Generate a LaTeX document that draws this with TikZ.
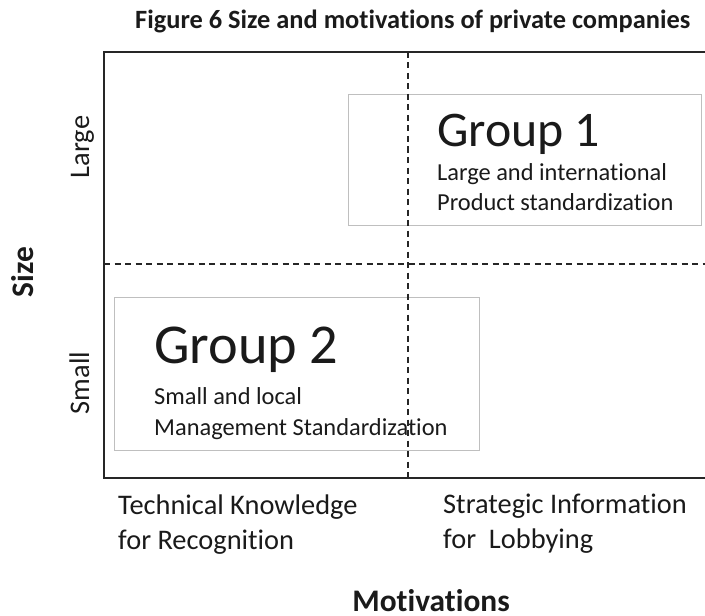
\documentclass[tikz,border=0pt]{standalone}
\usepackage{fontspec}
\setmainfont{Carlito}[Ligatures={NoCommon,NoRare}]
\usepackage{xcolor}
\usetikzlibrary{positioning}
\definecolor{framegray}{HTML}{262626}
\definecolor{boxgray}{HTML}{BFBFBF}
\definecolor{textdark}{HTML}{1A1A1A}

\begin{document}
\begin{tikzpicture}[
  x=1bp, y=-1bp,
  axisline/.style={draw=framegray, line width=2.6bp, line join=miter},
  divider/.style={draw=framegray, line width=1.5bp, dash pattern=on 6bp off 4.5bp},
  groupbox/.style={rectangle, draw=boxgray, line width=1bp, inner sep=0pt},
  grouptitle/.style={anchor=base west, inner sep=0pt, text=textdark},
  grouptext/.style={anchor=base west, inner sep=0pt, align=left, text=textdark, font=\fontsize{24.5}{30.5}\selectfont},
  ticklabel/.style={inner sep=0pt, text=textdark, font=\fontsize{28.5}{35}\selectfont},
  axistitle/.style={inner sep=0pt, text=textdark, font=\fontsize{31.5}{37}\selectfont\bfseries},
]

  \useasboundingbox (0,0) rectangle (705,616);

  \node[anchor=base west, inner sep=0pt, text=textdark, font=\fontsize{26.5}{30}\selectfont\bfseries] (title) at (135,29) {Figure 6 Size and motivations of private companies};

  % frame and quadrant corners
  \coordinate (corner) at (104,52);
  \coordinate (topend) at (705,52);
  \coordinate (origin) at (104,478);
  \coordinate (axisend) at (705,478);
  \coordinate (midtop) at (408,52);
  \coordinate (midbottom) at (408,478);
  \coordinate (midleft) at (104,264);
  \coordinate (midright) at (705,264);

  \draw[axisline] (topend) -- (corner) -- (origin) -- (axisend);

  % groups (multi-line nodes sit on their last baseline)
  \node[groupbox, minimum width=354, minimum height=132] (grpone) at (525,160) {};
  \node[grouptitle, font=\fontsize{50}{60}\selectfont] (grponetitle) at (437,147) {Group 1};
  \node[grouptext] (grponetext) at (437,211) {Large and international\\Product standardization};

  \node[groupbox, minimum width=366, minimum height=154] (grptwo) at (297,374) {};
  \node[grouptitle, font=\fontsize{56.5}{66}\selectfont] (grptwotitle) at (154,363) {Group 2};
  \node[grouptext] (grptwotext) at (154,435) {Small and local\\Management Standardization};

  \draw[divider] (midtop) -- (midbottom);
  \draw[divider] (midleft) -- (midright);

  % axis labels
  \node[ticklabel, rotate=90, anchor=base] (large) at (89,147) {Large};
  \node[ticklabel, rotate=90, anchor=base] (small) at (89,383) {Small};
  \node[ticklabel, anchor=base west, align=left] (technical) at (118,549) {Technical Knowledge\\for Recognition};
  \node[ticklabel, anchor=base west, align=left] (strategic) at (443,548) {Strategic Information\\for\ \ Lobbying};

  \node[axistitle, rotate=90, anchor=base] (size) at (33,272) {Size};
  \node[axistitle, anchor=base] (motivations) at (431,611) {Motivations};

\end{tikzpicture}
\end{document}
